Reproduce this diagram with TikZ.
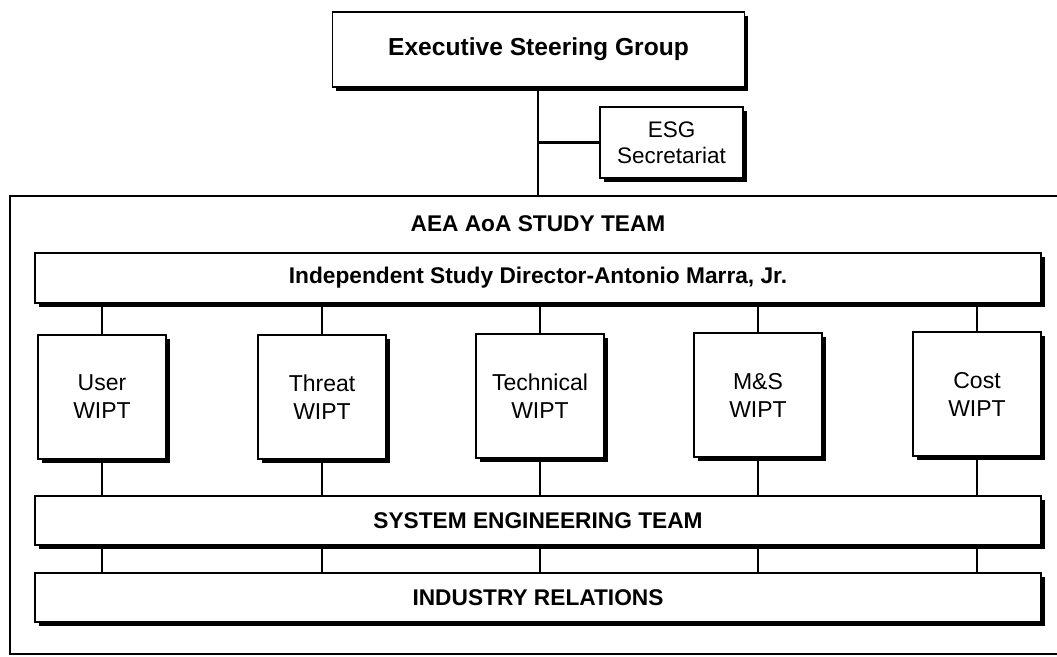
\documentclass[tikz,border=0pt]{standalone}
\usepackage{fontspec}
\setmainfont{Liberation Sans}
\usetikzlibrary{shadows}
\begin{document}
\begin{tikzpicture}[x=1pt,y=-1pt,
  box/.style={draw=black, line width=1.8pt, fill=white, rectangle, inner sep=0pt, align=center,
    drop shadow={shadow xshift=3.5pt, shadow yshift=-3.5pt, fill=black, opacity=1}},
  wipt/.style={box, minimum width=128pt, minimum height=124pt, font=\fontsize{23}{28}\selectfont},
  bar/.style={box, minimum width=1006pt, minimum height=49pt, font=\fontsize{22.7}{26}\selectfont\bfseries},
  conn/.style={line width=2.6pt}]
\useasboundingbox (0,0) rectangle (1057,656);
% outer team box
\node[draw=black, line width=1.8pt, minimum width=1052pt, minimum height=458pt, inner sep=0pt] (team) at (536,425) {};
\node[font=\fontsize{22.7}{26}\selectfont\bfseries] (teamlabel) at (538,224) {AEA AoA STUDY TEAM};
% top boxes
\node[box, minimum width=412pt, minimum height=75pt, font=\fontsize{24.6}{28}\selectfont\bfseries] (esg) at (538.5,49.5) {Executive Steering Group};
\node[box, minimum width=143pt, minimum height=71pt, font=\fontsize{22.5}{26}\selectfont] (sec) at (671.5,142.5) {ESG\\Secretariat};
\coordinate (j) at (538,142.5);
% bars
\node[bar, minimum height=50pt] (dir) at (538,278) {Independent Study Director-Antonio Marra, Jr.};
\node[bar] (set) at (538,520.5) {SYSTEM ENGINEERING TEAM};
\node[bar] (ir) at (538,597.5) {INDUSTRY RELATIONS};
% WIPTs
\node[wipt] (user) at (102,397) {User\\WIPT};
\node[wipt] (threat) at (322,397) {Threat\\WIPT};
\node[wipt] (tech) at (540,396) {Technical\\WIPT};
\node[wipt] (ms) at (758,395) {M\&S\\WIPT};
\node[wipt] (cost) at (977,394) {Cost\\WIPT};
% connectors
\draw[conn] (esg.south -| j) -- (team.north -| j);
\draw[conn] (j) -- (sec.west);
\foreach \n in {user,threat,tech,ms,cost}{
  \draw[conn] (dir.south -| \n.north) -- (\n.north);
  \draw[conn] (\n.south) -- (set.north -| \n.south);
  \draw[conn] (set.south -| \n.south) -- (ir.north -| \n.south);
}
\end{tikzpicture}
\end{document}
